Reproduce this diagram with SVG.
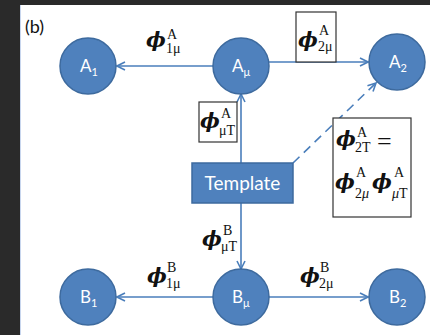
<svg xmlns="http://www.w3.org/2000/svg" width="430" height="335" viewBox="0 0 430 335">
<defs>
<marker id="arr" viewBox="0 0 10 10" refX="9" refY="5" markerWidth="10" markerHeight="10" markerUnits="userSpaceOnUse" orient="auto">
<path d="M1,1 L9,5 L1,9" fill="none" stroke="#4a7ebb" stroke-width="1.6"/>
</marker>
</defs>
<style>
.node{fill:#4f81bd;stroke:#3d6a9e;stroke-width:1.5}
.nl{fill:#fff;font-family:Lato,"Liberation Sans",sans-serif;font-size:17px}
.nls{font-size:11px}
.edge{stroke:#4a7ebb;stroke-width:1.6;fill:none;marker-end:url(#arr)}
.phi{font-family:"DejaVu Serif",serif;font-style:italic;font-weight:bold;font-size:21px;fill:#111}
.sup{font-family:"Liberation Serif","DejaVu Serif",serif;font-size:14px;fill:#111}
.lb{fill:#fff;stroke:#333;stroke-width:1.2}
</style>
<rect x="0" y="0" width="430" height="335" fill="#2a2a2a"/>
<rect x="20" y="5" width="410" height="330" fill="#fff"/>
<line x1="20.5" y1="5" x2="20.5" y2="335" stroke="#c8d6ee" stroke-width="1"/>
<text x="25" y="33" font-family="Lato,'Liberation Sans',sans-serif" font-size="18" fill="#111">(b)</text>

<g id="connectors">
<line class="edge" x1="213" y1="66" x2="117" y2="66"/>
<line class="edge" x1="269" y1="62" x2="368" y2="62"/>
<line class="edge" x1="241" y1="163" x2="241" y2="94"/>
<line class="edge" x1="241" y1="203" x2="241" y2="269"/>
<line class="edge" x1="293" y1="163" x2="376" y2="83" stroke-dasharray="9,6"/>
<line class="edge" x1="213" y1="297" x2="117" y2="297"/>
<line class="edge" x1="269" y1="297" x2="368" y2="297"/>
</g>

<g id="A1"><circle class="node" cx="88" cy="66" r="28"/><text class="nl" x="80" y="72">A<tspan class="nls" dy="4">1</tspan></text></g>
<g id="Amu"><circle class="node" cx="241" cy="66" r="28"/><text class="nl" x="232" y="72">A<tspan class="nls" dy="4">μ</tspan></text></g>
<g id="A2"><circle class="node" cx="397" cy="62" r="28"/><text class="nl" x="389" y="68">A<tspan class="nls" dy="4">2</tspan></text></g>
<g id="B1"><circle class="node" cx="88" cy="297" r="28"/><text class="nl" x="80" y="303">B<tspan class="nls" dy="4">1</tspan></text></g>
<g id="Bmu"><circle class="node" cx="241" cy="297" r="28"/><text class="nl" x="232" y="303">B<tspan class="nls" dy="4">μ</tspan></text></g>
<g id="B2"><circle class="node" cx="397" cy="297" r="28"/><text class="nl" x="389" y="303">B<tspan class="nls" dy="4">2</tspan></text></g>
<g id="Template"><rect x="192" y="163" width="101" height="40" fill="#4f81bd" stroke="#3d6a9e" stroke-width="1.5"/><text x="242.5" y="190" text-anchor="middle" font-family="Lato,'Liberation Sans',sans-serif" font-size="19" fill="#fff">Template</text></g>

<g id="labels">
<text class="phi" x="146" y="47">ϕ</text><text class="sup" x="167" y="39">A</text><text class="sup" x="166" y="53">1μ</text>

<rect class="lb" x="296" y="12" width="40" height="50"/>
<text class="phi" x="298" y="47">ϕ</text><text class="sup" x="319" y="35">A</text><text class="sup" x="318" y="51">2μ</text>

<rect class="lb" x="199" y="102" width="38" height="40"/>
<text class="phi" x="200" y="128">ϕ</text><text class="sup" x="221" y="118">A</text><text class="sup" x="219" y="135">μT</text>

<text class="phi" x="202" y="246">ϕ</text><text class="sup" x="223" y="235">B</text><text class="sup" x="221" y="251">μT</text>

<text class="phi" x="147" y="283">ϕ</text><text class="sup" x="167" y="272">B</text><text class="sup" x="166" y="288">1μ</text>

<text class="phi" x="300" y="283">ϕ</text><text class="sup" x="320" y="272">B</text><text class="sup" x="319" y="288">2μ</text>

<rect class="lb" x="333" y="118" width="78" height="99"/>
<text class="phi" x="336" y="146">ϕ</text><text class="sup" x="357" y="137">A</text><text class="sup" x="355" y="152">2T</text>
<text x="377" y="150" font-family="'Liberation Serif',serif" font-size="26" fill="#111">=</text>
<text class="phi" x="335" y="189">ϕ</text><text class="sup" x="356" y="177">A</text><text class="sup" x="355" y="198">2<tspan font-style="italic">μ</tspan></text>
<text class="phi" x="372" y="189">ϕ</text><text class="sup" x="394" y="177">A</text><text class="sup" x="392" y="198"><tspan font-style="italic">μ</tspan>T</text>
</g>
</svg>
